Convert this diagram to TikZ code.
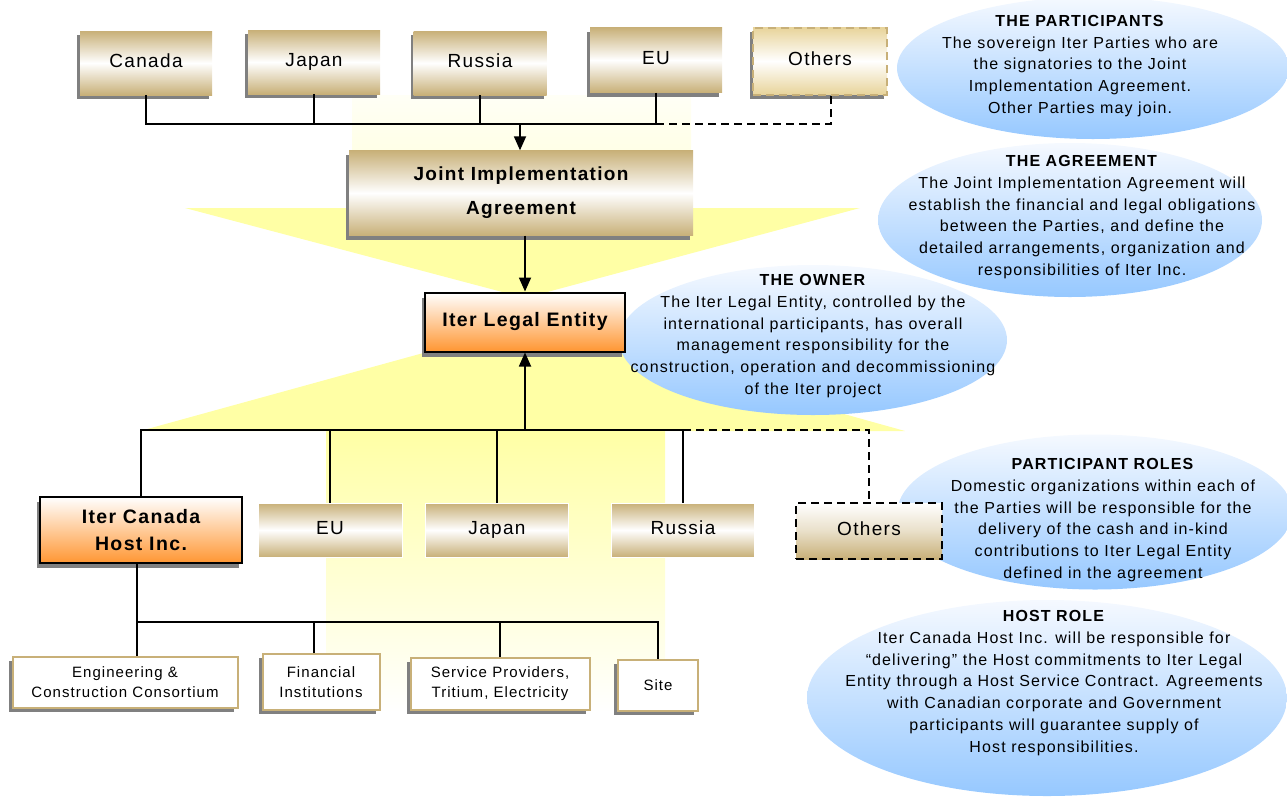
\documentclass[tikz,border=0pt]{standalone}
\usepackage{fontspec}
\setmainfont{Liberation Sans}[LetterSpace=7]
\usepackage{tikz}
\usetikzlibrary{shapes.geometric}
\usetikzlibrary{shadows,arrows.meta}
\definecolor{tanC}{RGB}{200,176,120}
\definecolor{tanLight}{RGB}{232,212,155}
\definecolor{shadowC}{RGB}{128,128,128}
\definecolor{orangeC}{RGB}{255,150,50}
\definecolor{blueC}{RGB}{150,200,255}
\definecolor{blueTop}{RGB}{245,249,255}
\definecolor{yelC}{RGB}{255,255,165}
\tikzset{
	% shaded boxes for parties, agreement and owner
	tan shade/.style={rectangle,inner sep=0,top color=tanC,bottom color=tanC,middle color=white},
	party box/.style={tan shade,
		drop shadow={shadow xshift=-3pt,shadow yshift=-4pt,fill=shadowC,opacity=1},
		font=\fontsize{19}{23}\selectfont},
	one line/.style={text height=13.5pt,text depth=4pt},
	party flat/.style={tan shade,draw=white,one line,font=\fontsize{19}{23}\selectfont},
	owner box/.style={rectangle,inner sep=0,draw=black,line width=2pt,top color=white,bottom color=orangeC,
		drop shadow={shadow xshift=-3pt,shadow yshift=-5pt,fill=shadowC,opacity=1},
		font=\bfseries\fontsize{19.5}{27}\selectfont,align=center},
	supplier box/.style={rectangle,inner sep=0,draw=tanC,line width=2pt,fill=white,
		drop shadow={shadow xshift=-4pt,shadow yshift=-4pt,fill=shadowC,opacity=1},
		font=\fontsize{15}{20}\selectfont,align=center},
	% blue notes
	note bubble/.style={ellipse,inner sep=0,top color=blueTop,bottom color=blueC},
	note text/.style={align=center,inner sep=0,font=\fontsize{16}{21.7}\selectfont},
	conn/.style={line width=1.8pt},
	dashed line/.style={dash pattern=on 8pt off 5pt},
	arrow tip/.style={-{Triangle[length=14pt,width=12pt]}}
}
\begin{document}
\begin{tikzpicture}[x=1pt,y=-1pt]
	% macros for the notes
	\newcommand{\bubble}[4]{\node[note bubble,minimum width=#3,minimum height=#4](#1)at(#2){};}
	\newcommand{\bubbletext}[3]{\node[note text](#1)at(#2){#3};}
	\useasboundingbox (0,0) rectangle (1287,796);
	% yellow arrow behind the chart
	\fill[top color=yelC!10!white,bottom color=yelC!45!white] (352,95) rectangle (691,208);
	\fill[yelC] (185,208) -- (860,208) -- (525,298) -- cycle;
	\fill[yelC] (140,431) -- (525,325) -- (905,431) -- cycle;
	\fill[top color=yelC,bottom color=white] (326,431) rectangle (665,712);
	
	\bubble{ownerBub}{813,340}{388pt}{150pt}
	\bubble{agreeBub}{1070,220}{384pt}{154pt}
	\bubble{partBub}{1093,68}{392pt}{142pt}
	\bubble{rolesBub}{1095,512}{395pt}{155pt}
	\bubble{hostBub}{1047,698}{480pt}{196pt}
	
	% the parties
	\node[party box,one line,minimum width=132pt,minimum height=64pt] (canada) at (146,63) {Canada};
	\node[party box,one line,minimum width=132pt,minimum height=64pt] (japan) at (314,62) {Japan};
	\node[party box,one line,minimum width=133pt,minimum height=64pt] (russia) at (480,63) {Russia};
	\node[party box,one line,minimum width=132pt,minimum height=65pt] (euT) at (656,60) {EU};
	\node[party box,one line,minimum width=134pt,minimum height=67pt,draw=tanC,line width=2pt,dashed line,
		top color=tanLight,bottom color=tanLight,middle color=white] (othersT) at (820,61) {Others};
	
	\node[party box,minimum width=344pt,minimum height=85pt,align=center,
		font=\bfseries\fontsize{19}{34}\selectfont] (jia) at (521,193) {Joint Implementation\\Agreement};
	\node[owner box,one line,minimum width=200pt,minimum height=59pt] (ile) at (525,322) {Iter Legal Entity};
	
	% domestic organizations
	\node[owner box,minimum width=202pt,minimum height=66pt] (ich) at (141,530) {Iter Canada\\Host Inc.};
	\node[party flat,minimum width=144pt,minimum height=54pt] (euB) at (330,530) {EU};
	\node[party flat,minimum width=143pt,minimum height=54pt] (japanB) at (497,530) {Japan};
	\node[party flat,minimum width=143pt,minimum height=54pt] (russiaB) at (683,530) {Russia};
	\node[party flat,minimum width=146pt,minimum height=56pt,draw=black,line width=2pt,dashed line,
		top color=white,bottom color=tanC,middle color=white!60!tanC] (othersB) at (869,531) {Others};
	
	% host suppliers
	\node[supplier box,minimum width=225pt,minimum height=51pt] (eng) at (125,682) {Engineering \&\\Construction Consortium};
	\node[supplier box,minimum width=117pt,minimum height=56pt] (fin) at (321,682) {Financial\\Institutions};
	\node[supplier box,minimum width=179pt,minimum height=52pt] (serv) at (500,684) {Service Providers,\\Tritium, Electricity};
	\node[supplier box,minimum width=80pt,minimum height=51pt] (site) at (658,685) {Site};
	
	% connectors
	\coordinate (topBus) at (520,124);
	\draw[conn] (canada.south) |- (topBus);
	\draw[conn] (euT.south) |- (topBus);
	\draw[conn] (japan.south) -- (japan.south |- topBus);
	\draw[conn] (russia.south) -- (russia.south |- topBus);
	\draw[conn,dashed line] (euT.south |- topBus) -| ([xshift=11pt]othersT.south);
	\draw[conn,arrow tip] (topBus) -- (topBus |- jia.north);
	\draw[conn,arrow tip] (jia.south -| ile.north) -- (ile.north);
	
	\coordinate (lowBus) at (525,430);
	\draw[conn] (ich.north) |- (lowBus);
	\draw[conn] (russiaB.north) |- (lowBus);
	\draw[conn] (euB.north) -- (euB.north |- lowBus);
	\draw[conn] (japanB.north) -- (japanB.north |- lowBus);
	\draw[conn,dashed line] (russiaB.north |- lowBus) -| (othersB.north);
	\draw[conn,arrow tip] (lowBus) -- (ile.south);
	
	\coordinate (hostBus) at (137,622);
	\draw[conn] (ich.south -| hostBus) -- (eng.north -| hostBus);
	\draw[conn] (hostBus) -| (site.north);
	\draw[conn] ([xshift=-7pt]fin.north) -- ([xshift=-7pt]fin.north |- hostBus);
	\draw[conn] (serv.north) -- (serv.north |- hostBus);
	
	% texts of the notes
	\bubbletext{partText}{1080,66}{\textbf{THE PARTICIPANTS}\\The sovereign Iter Parties who are\\the signatories to the Joint\\Implementation Agreement.\\Other Parties may join.}
	\bubbletext{agreeText}{1082,217}{\textbf{THE AGREEMENT}\\The Joint Implementation Agreement will\\establish the financial and legal obligations\\between the Parties, and define the\\detailed arrangements, organization and\\responsibilities of Iter Inc.}
	\bubbletext{ownerText}{813,336}{\textbf{THE OWNER}\\The Iter Legal Entity, controlled by the\\international participants, has overall\\management responsibility for the\\construction, operation and decommissioning\\of the Iter project}
	\bubbletext{rolesText}{1103,520}{\textbf{PARTICIPANT ROLES}\\Domestic organizations within each of\\the Parties will be responsible for the\\delivery of the cash and in-kind\\contributions to Iter Legal Entity\\defined in the agreement}
	\bubbletext{hostText}{1054,683}{\textbf{HOST ROLE}\\Iter Canada Host Inc. will be responsible for\\“delivering” the Host commitments to Iter Legal\\Entity through a Host Service Contract. Agreements\\with Canadian corporate and Government\\participants will guarantee supply of\\Host responsibilities.}
\end{tikzpicture}
\end{document}
